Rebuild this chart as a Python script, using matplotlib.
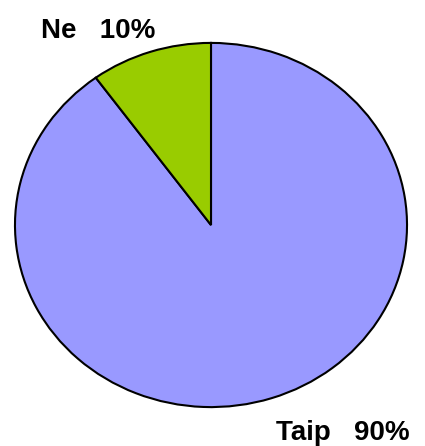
import matplotlib.pyplot as plt

plt.rcParams['font.family'] = ['Liberation Sans', 'DejaVu Sans']

labels = ["Taip", "Ne"]
values = [90, 10]
colors = ['#9999FF', '#99CC00']

W, H = 425, 446
fig = plt.figure(figsize=(W / 100, H / 100), dpi=100)
ax = fig.add_axes([14 / W, (H - 408) / H, 394 / W, 366 / H])

ax.pie(values, colors=colors, startangle=90, counterclock=False,
       wedgeprops=dict(edgecolor='black', linewidth=1.5))
ax.set_aspect('auto')
ax.set_xlim(-1.005, 1.005)
ax.set_ylim(-1.005, 1.005)

# labels: Ne top-left, Taip bottom-right
fig.text(41 / W, 1 - 38 / H, "%s   %d%%" % (labels[1], values[1]),
         fontsize=20, fontweight='bold', ha='left', va='baseline')
fig.text(276 / W, 1 - 440 / H, "%s   %d%%" % (labels[0], values[0]),
         fontsize=20, fontweight='bold', ha='left', va='baseline')

fig.savefig("out.png", dpi=100, facecolor='white')
